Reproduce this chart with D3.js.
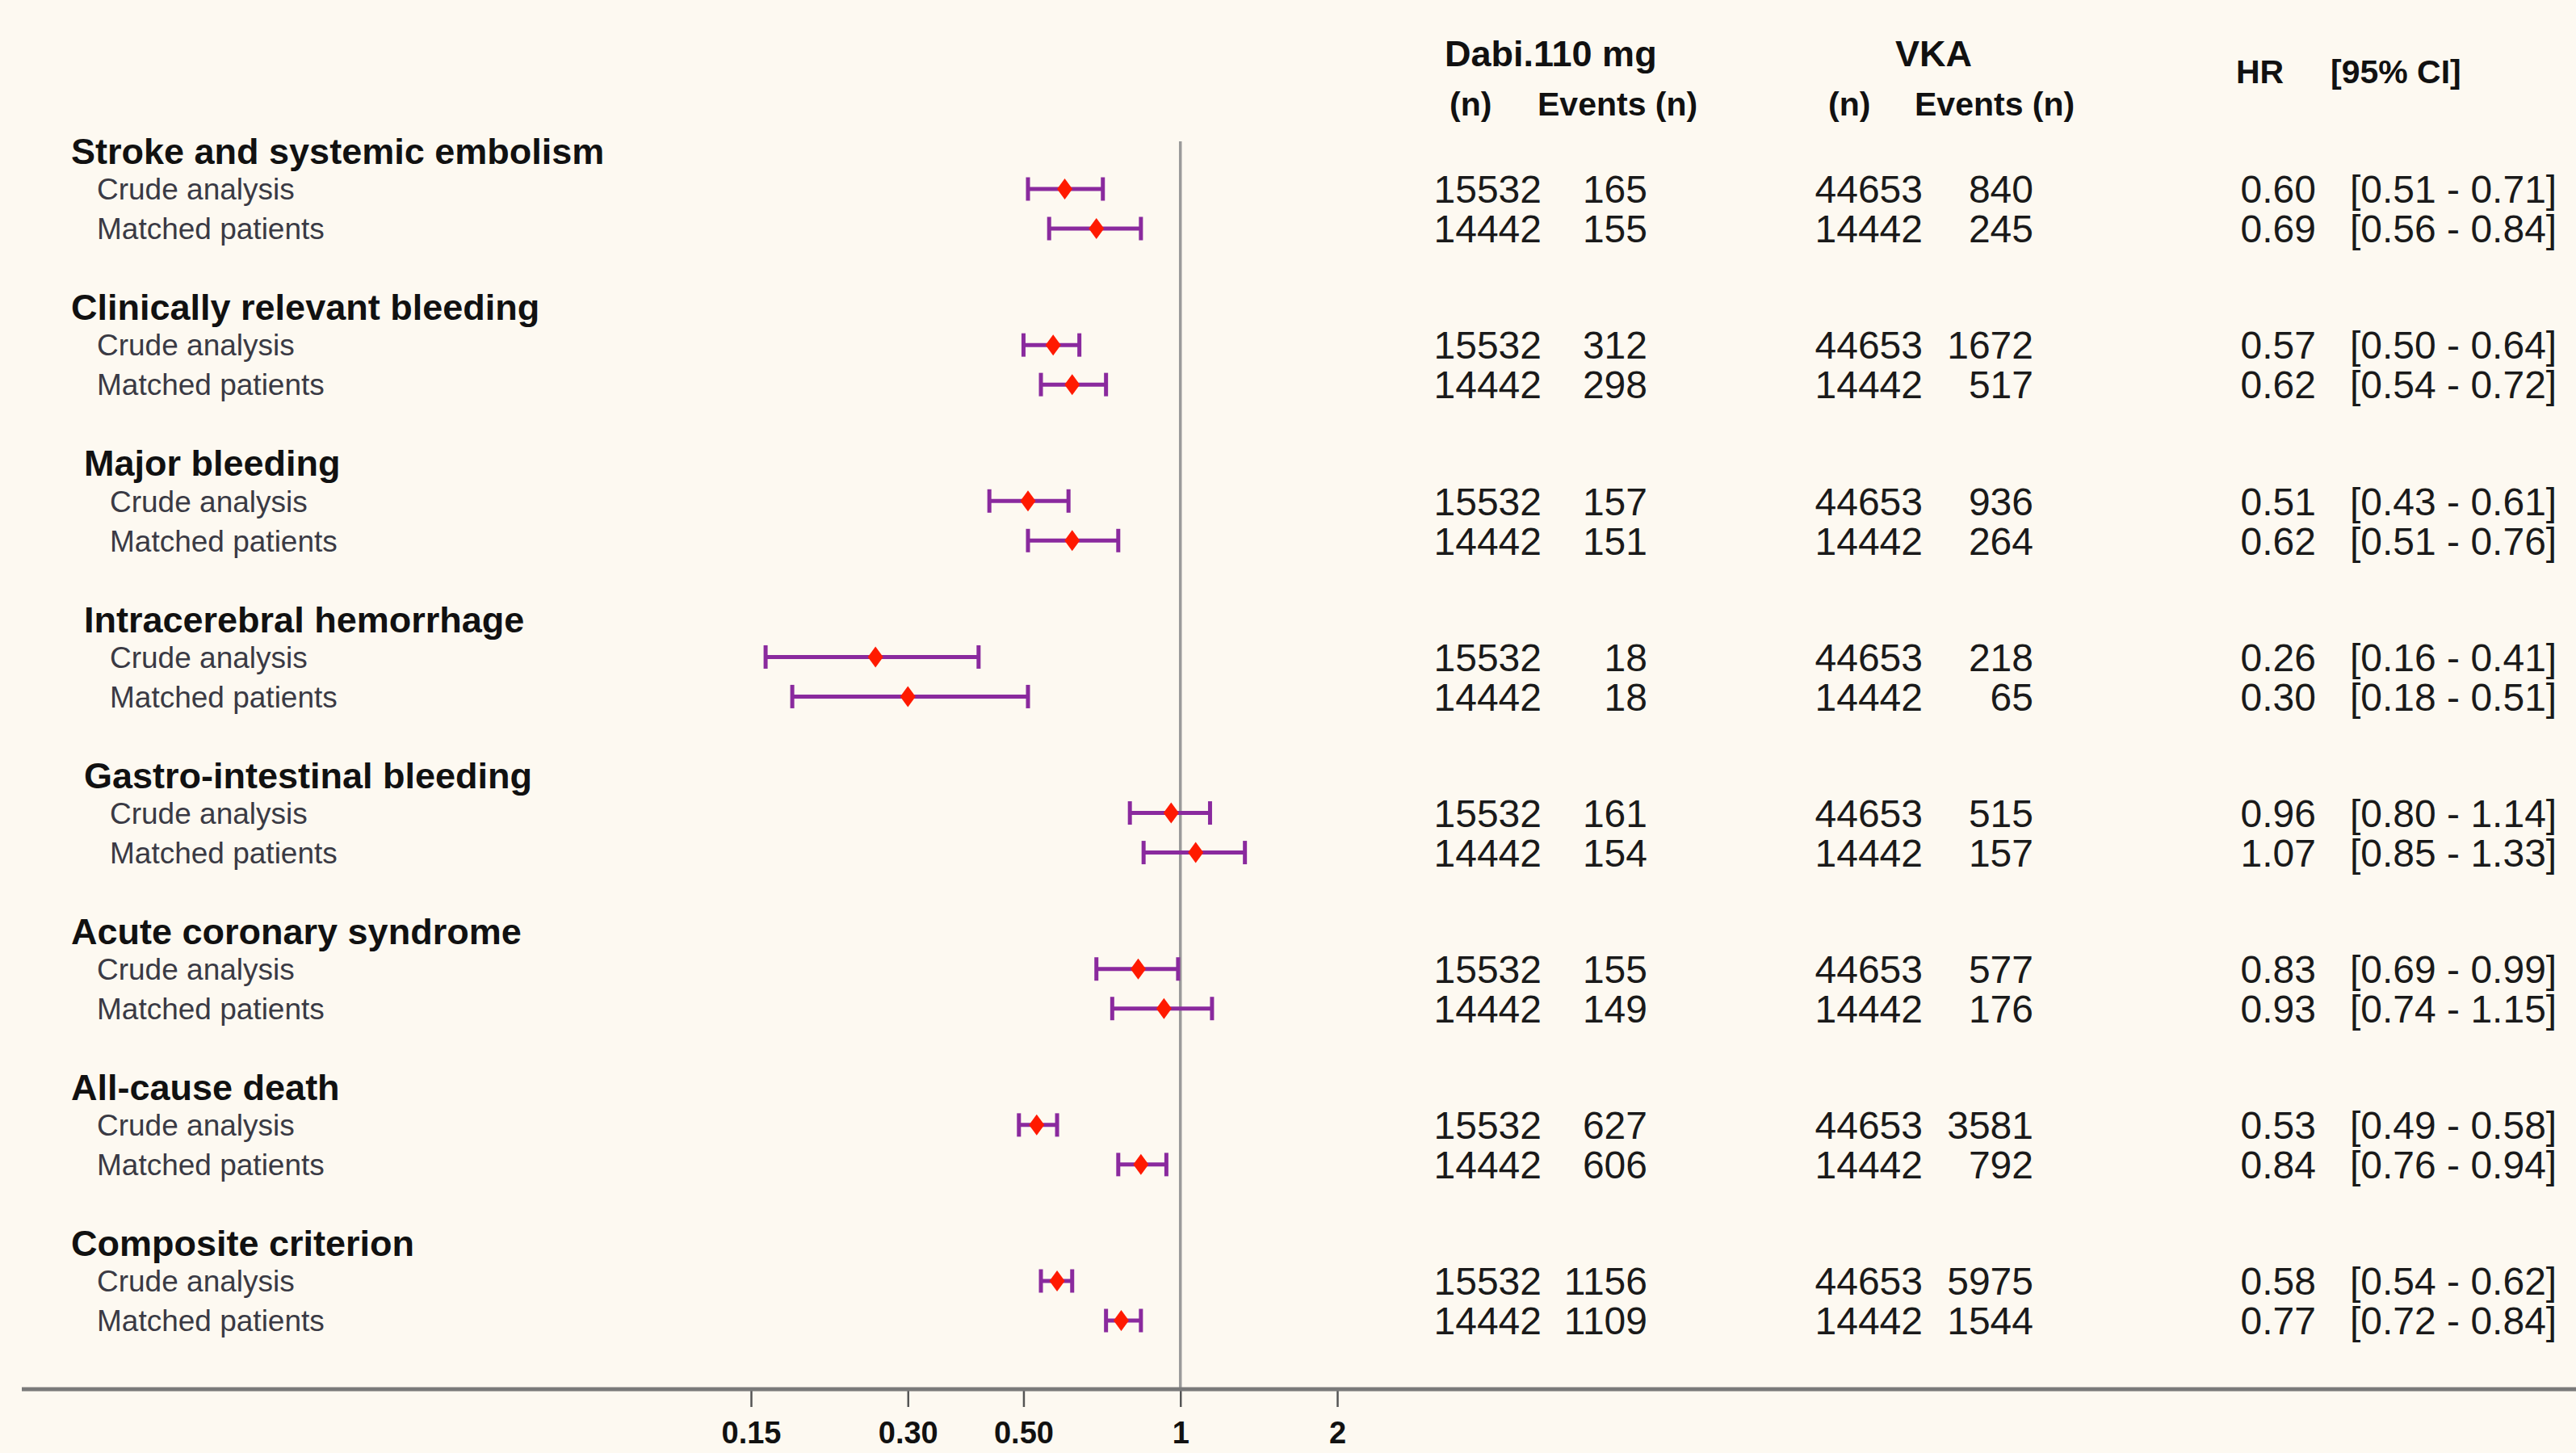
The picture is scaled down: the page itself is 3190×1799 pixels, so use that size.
<!DOCTYPE html>
<html>
<head>
<meta charset="utf-8">
<script src="https://cdn.jsdelivr.net/npm/d3@7"></script>
<style>
  html, body { margin: 0; padding: 0; background: #fdf9f1; }
  svg { display: block; }
</style>
</head>
<body>
<script>
// ---------- data ----------
const groups = [
  "Stroke and systemic embolism",
  "Clinically relevant bleeding",
  "Major bleeding",
  "Intracerebral hemorrhage",
  "Gastro-intestinal bleeding",
  "Acute coronary syndrome",
  "All-cause death",
  "Composite criterion"
];
const groupIndented = [false, false, true, true, true, false, false, false];
const subLabels = ["Crude analysis", "Matched patients"];

// per group: [crude, matched]
const dabiN      = [[15532,14442],[15532,14442],[15532,14442],[15532,14442],[15532,14442],[15532,14442],[15532,14442],[15532,14442]];
const dabiEvents = [[165,155],[312,298],[157,151],[18,18],[161,154],[155,149],[627,606],[1156,1109]];
const vkaN       = [[44653,14442],[44653,14442],[44653,14442],[44653,14442],[44653,14442],[44653,14442],[44653,14442],[44653,14442]];
const vkaEvents  = [[840,245],[1672,517],[936,264],[218,65],[515,157],[577,176],[3581,792],[5975,1544]];
const hr         = [[0.60,0.69],[0.57,0.62],[0.51,0.62],[0.26,0.30],[0.96,1.07],[0.83,0.93],[0.53,0.84],[0.58,0.77]];
const ciLow      = [[0.51,0.56],[0.50,0.54],[0.43,0.51],[0.16,0.18],[0.80,0.85],[0.69,0.74],[0.49,0.76],[0.54,0.72]];
const ciHigh     = [[0.71,0.84],[0.64,0.72],[0.61,0.76],[0.41,0.51],[1.14,1.33],[0.99,1.15],[0.58,0.94],[0.62,0.84]];

const tickValues = [0.15, 0.30, 0.50, 1, 2];
const tickLabels = ["0.15", "0.30", "0.50", "1", "2"];

// ---------- layout ----------
const W = 3190, H = 1799;
const BG = "#fdf9f1";
const PURPLE = "#8a2a9e";
const RED = "#ff1a00";
const FONT = "'Liberation Sans', Arial, Helvetica, sans-serif";

const svg = d3.select("body").append("svg")
  .attr("width", W).attr("height", H)
  .style("font-family", FONT);
svg.append("rect").attr("width", W).attr("height", H).attr("fill", BG);

const x = d3.scaleLog().domain([0.15, 2]).range([930, 1656]);
const gy = d3.scaleLinear().domain([0, 7]).range([187, 1539]);
const subOffset = [47, 96];
const axisY = 1720;

// rows table
const rows = [];
groups.forEach((g, gi) => {
  [0, 1].forEach(k => {
    rows.push({
      gi, k,
      y: gy(gi) + subOffset[k],
      label: subLabels[k],
      dN: dabiN[gi][k], dE: dabiEvents[gi][k],
      vN: vkaN[gi][k], vE: vkaEvents[gi][k],
      hr: hr[gi][k], lo: ciLow[gi][k], hi: ciHigh[gi][k]
    });
  });
});

// ---------- headers ----------
const hdr = svg.append("g").attr("font-weight", "bold").attr("font-size", 45).attr("fill", "#111");
hdr.append("text").attr("x", 1789).attr("y", 66).attr("dy", "0.36em").text("Dabi.110 mg");
hdr.append("text").attr("x", 1795).attr("y", 128).attr("dy", "0.36em").attr("font-size", 41).text("(n)");
hdr.append("text").attr("x", 1904).attr("y", 128).attr("dy", "0.36em").attr("font-size", 41).text("Events (n)");
hdr.append("text").attr("x", 2347).attr("y", 66).attr("dy", "0.36em").text("VKA");
hdr.append("text").attr("x", 2264).attr("y", 128).attr("dy", "0.36em").attr("font-size", 41).text("(n)");
hdr.append("text").attr("x", 2371).attr("y", 128).attr("dy", "0.36em").attr("font-size", 41).text("Events (n)");
hdr.append("text").attr("x", 2769).attr("y", 88).attr("dy", "0.36em").attr("font-size", 41).text("HR");
hdr.append("text").attr("x", 2886).attr("y", 88).attr("dy", "0.36em").attr("font-size", 41).text("[95% CI]");

// ---------- group titles ----------
svg.append("g").selectAll("text").data(groups).join("text")
  .attr("x", (d, i) => groupIndented[i] ? 104 : 88)
  .attr("y", (d, i) => gy(i))
  .attr("dy", "0.36em")
  .attr("font-size", 45).attr("font-weight", "bold").attr("fill", "#111")
  .text(d => d);

// ---------- sub labels ----------
svg.append("g").selectAll("text").data(rows).join("text")
  .attr("x", d => groupIndented[d.gi] ? 136 : 120)
  .attr("y", d => d.y)
  .attr("dy", "0.36em")
  .attr("font-size", 37).attr("fill", "#3a3a44")
  .text(d => d.label);

// ---------- reference line at 1 ----------
svg.append("line")
  .attr("x1", x(1)).attr("x2", x(1))
  .attr("y1", 175).attr("y2", axisY)
  .attr("stroke", "#9a9a9a").attr("stroke-width", 3.5);

// ---------- axis ----------
const axis = d3.axisBottom(x)
  .tickValues(tickValues)
  .tickFormat((d, i) => tickLabels[i])
  .tickSize(22).tickPadding(18);
const ag = svg.append("g").attr("transform", `translate(0,${axisY})`).call(axis);
ag.select(".domain").remove();
ag.selectAll(".tick line").attr("stroke", "#555").attr("stroke-width", 2.5);
ag.selectAll(".tick text")
  .attr("font-family", FONT).attr("font-size", 38).attr("font-weight", "bold").attr("fill", "#111");
svg.append("line")
  .attr("x1", 27).attr("x2", W).attr("y1", axisY).attr("y2", axisY)
  .attr("stroke", "#7a7a7a").attr("stroke-width", 5);

// ---------- CI marks ----------
const marks = svg.append("g");
const capH = 29;
marks.selectAll("line.ci").data(rows).join("line").attr("class", "ci")
  .attr("x1", d => x(d.lo)).attr("x2", d => x(d.hi))
  .attr("y1", d => d.y).attr("y2", d => d.y)
  .attr("stroke", PURPLE).attr("stroke-width", 5);
marks.selectAll("line.capl").data(rows).join("line").attr("class", "capl")
  .attr("x1", d => x(d.lo)).attr("x2", d => x(d.lo))
  .attr("y1", d => d.y - capH / 2).attr("y2", d => d.y + capH / 2)
  .attr("stroke", PURPLE).attr("stroke-width", 5);
marks.selectAll("line.caph").data(rows).join("line").attr("class", "caph")
  .attr("x1", d => x(d.hi)).attr("x2", d => x(d.hi))
  .attr("y1", d => d.y - capH / 2).attr("y2", d => d.y + capH / 2)
  .attr("stroke", PURPLE).attr("stroke-width", 5);
marks.selectAll("path.pt").data(rows).join("path").attr("class", "pt")
  .attr("d", d => {
    const cx = x(d.hr), cy = d.y, w = 9.5, h = 13;
    return `M${cx},${cy - h}L${cx + w},${cy}L${cx},${cy + h}L${cx - w},${cy}Z`;
  })
  .attr("fill", RED);

// ---------- numeric columns ----------
const nums = svg.append("g").attr("font-size", 48).attr("fill", "#1a1a1a").attr("text-anchor", "end");
const cols = [
  { xr: 1909, f: d => d.dN },
  { xr: 2040, f: d => d.dE },
  { xr: 2381, f: d => d.vN },
  { xr: 2518, f: d => d.vE },
  { xr: 2868, f: d => d.hr.toFixed(2) }
];
cols.forEach(c => {
  nums.append("g").selectAll("text").data(rows).join("text")
    .attr("x", c.xr).attr("y", d => d.y).attr("dy", "0.36em")
    .text(c.f);
});
nums.append("g").selectAll("text").data(rows).join("text")
  .attr("text-anchor", "start")
  .attr("x", 2910).attr("y", d => d.y).attr("dy", "0.36em")
  .text(d => `[${d.lo.toFixed(2)} - ${d.hi.toFixed(2)}]`);
</script>
</body>
</html>
